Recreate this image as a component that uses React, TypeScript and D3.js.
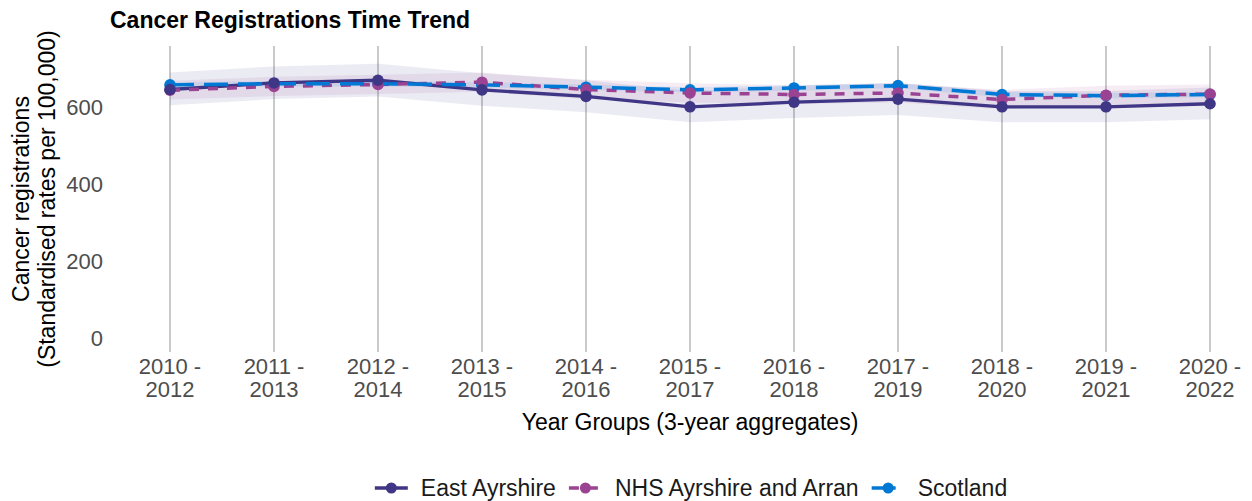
import React, { useRef, useEffect } from 'react';
import * as d3 from 'd3';

// Year groups (3-year aggregates)
const yearGroups = [
  '2010 - 2012', '2011 - 2013', '2012 - 2014', '2013 - 2015', '2014 - 2016', '2015 - 2017',
  '2016 - 2018', '2017 - 2019', '2018 - 2020', '2019 - 2021', '2020 - 2022',
];

const eastAyrshire = [646, 663, 670, 645, 628, 601, 613, 621, 601, 601, 609];
const eastLower = [605, 621, 628, 604, 587, 561, 572, 580, 561, 561, 569];
const eastUpper = [690, 706, 713, 688, 670, 642, 655, 663, 642, 642, 651];

const nhsAyrshire = [644, 654, 659, 665, 646, 637, 633, 637, 620, 631, 634];
const nhsLower = [620, 629, 634, 640, 621, 612, 608, 612, 595, 606, 609];
const nhsUpper = [669, 679, 684, 690, 671, 662, 658, 662, 645, 656, 659];

const scotland = [658, 661, 661, 658, 652, 645, 650, 656, 633, 630, 633];
const scotlandLower = [651, 654, 654, 651, 645, 638, 643, 649, 626, 623, 626];
const scotlandUpper = [665, 668, 668, 665, 659, 652, 657, 663, 640, 637, 640];

const yTicks = [0, 200, 400, 600];

const series = [
  { name: 'East Ayrshire', values: eastAyrshire, lower: eastLower, upper: eastUpper, color: '#3f3685', dash: null, width: 3.3 },
  { name: 'NHS Ayrshire and Arran', values: nhsAyrshire, lower: nhsLower, upper: nhsUpper, color: '#9b4393', dash: '10,9', width: 3.5 },
  { name: 'Scotland', values: scotland, lower: scotlandLower, upper: scotlandUpper, color: '#0078d4', dash: '24,10', width: 3.5 },
];

const FONT = '"Liberation Sans", Arial, Helvetica, sans-serif';

const App: React.FC = () => {
  const svgRef = useRef<SVGSVGElement | null>(null);

  useEffect(() => {
    const svg = d3.select(svgRef.current);
    svg.selectAll('*').remove();

    const top = 46;
    const bottom = 352;

    const x = d3.scalePoint<string>().domain(yearGroups).range([170, 1210]);
    const y = d3.scaleLinear().domain([-36, 759]).range([bottom, top]);

    // Title
    svg.append('text')
      .attr('x', 110).attr('y', 28)
      .attr('font-size', 23).attr('font-weight', 'bold')
      .attr('fill', '#000')
      .text('Cancer Registrations Time Trend');

    // Vertical grid lines
    svg.append('g').selectAll('line')
      .data(yearGroups)
      .enter().append('line')
      .attr('x1', d => x(d)!).attr('x2', d => x(d)!)
      .attr('y1', top).attr('y2', bottom)
      .attr('stroke', '#c4c4c4').attr('stroke-width', 1.8);

    // Y tick labels
    svg.append('g').selectAll('text')
      .data(yTicks)
      .enter().append('text')
      .attr('x', 103).attr('y', d => y(d))
      .attr('dy', '0.36em')
      .attr('text-anchor', 'end')
      .attr('font-size', 22).attr('fill', '#4d4d4d')
      .text(d => d3.format('d')(d));

    // X tick labels (two lines)
    const xt = svg.append('g').selectAll('text')
      .data(yearGroups)
      .enter().append('text')
      .attr('text-anchor', 'middle')
      .attr('font-size', 22).attr('fill', '#4d4d4d');
    xt.append('tspan').attr('x', d => x(d)!).attr('y', 374).text(d => d.split(' - ')[0] + ' -');
    xt.append('tspan').attr('x', d => x(d)!).attr('y', 397).text(d => d.split(' - ')[1]);

    // Axis titles
    svg.append('text')
      .attr('x', 690).attr('y', 430)
      .attr('text-anchor', 'middle')
      .attr('font-size', 23).attr('fill', '#000')
      .text('Year Groups (3-year aggregates)');

    const yTitle = svg.append('text')
      .attr('transform', `translate(0,${(top + bottom) / 2}) rotate(-90)`)
      .attr('text-anchor', 'middle')
      .attr('font-size', 23).attr('fill', '#000');
    yTitle.append('tspan').attr('x', 0).attr('y', 29).text('Cancer registrations');
    yTitle.append('tspan').attr('x', 0).attr('y', 55).text('(Standardised rates per 100,000)');

    // Confidence ribbons
    series.forEach(s => {
      const a = d3.area<number>()
        .x((_, i) => x(yearGroups[i])!)
        .y0((_, i) => y(s.lower[i]))
        .y1((_, i) => y(s.upper[i]));
      svg.append('path')
        .datum(s.values)
        .attr('d', a)
        .attr('fill', s.color)
        .attr('fill-opacity', 0.1);
    });

    const line = d3.line<number>()
      .x((_, i) => x(yearGroups[i])!)
      .y(d => y(d));

    // Lines
    series.forEach(s => {
      svg.append('path')
        .datum(s.values)
        .attr('d', line)
        .attr('fill', 'none')
        .attr('stroke', s.color)
        .attr('stroke-width', s.width)
        .attr('stroke-dasharray', s.dash)
        .attr('stroke-linejoin', 'round');
    });

    // Points (Scotland first, East on top)
    [...series].reverse().forEach(s => {
      svg.append('g').selectAll('circle')
        .data(s.values)
        .enter().append('circle')
        .attr('cx', (_, i) => x(yearGroups[i])!)
        .attr('cy', d => y(d))
        .attr('r', 5.8)
        .attr('fill', s.color);
    });

    // Legend
    const legend = svg.append('g');
    const keyW = 33;
    const gapText = 13;
    const itemGap = 13;
    const ly = 488;
    const items: { g: d3.Selection<SVGGElement, unknown, null, undefined>; w: number }[] = [];
    series.forEach(s => {
      const g = legend.append('g');
      g.append('line')
        .attr('x1', 0).attr('x2', keyW).attr('y1', ly).attr('y2', ly)
        .attr('stroke', s.color).attr('stroke-width', s.width)
        .attr('stroke-dasharray', s.dash);
      g.append('circle').attr('cx', keyW / 2).attr('cy', ly).attr('r', 5.5).attr('fill', s.color);
      const t = g.append('text')
        .attr('x', keyW + gapText).attr('y', ly).attr('dy', '0.36em')
        .attr('font-size', 23).attr('fill', '#1a1a1a')
        .text(s.name);
      const tw = (t.node() as SVGTextElement).getComputedTextLength();
      items.push({ g, w: keyW + gapText + tw });
    });
    const total = d3.sum(items, d => d.w) + itemGap * (items.length - 1);
    let cx = 691 - total / 2;
    items.forEach(it => {
      it.g.attr('transform', `translate(${cx},0)`);
      cx += it.w + itemGap;
    });
  }, []);

  return (
    <svg ref={svgRef} width={1252} height={501}
      style={{ display: 'block', position: 'absolute', left: 0, top: 0, fontFamily: FONT, background: '#fff' }} />
  );
};

export default App;
